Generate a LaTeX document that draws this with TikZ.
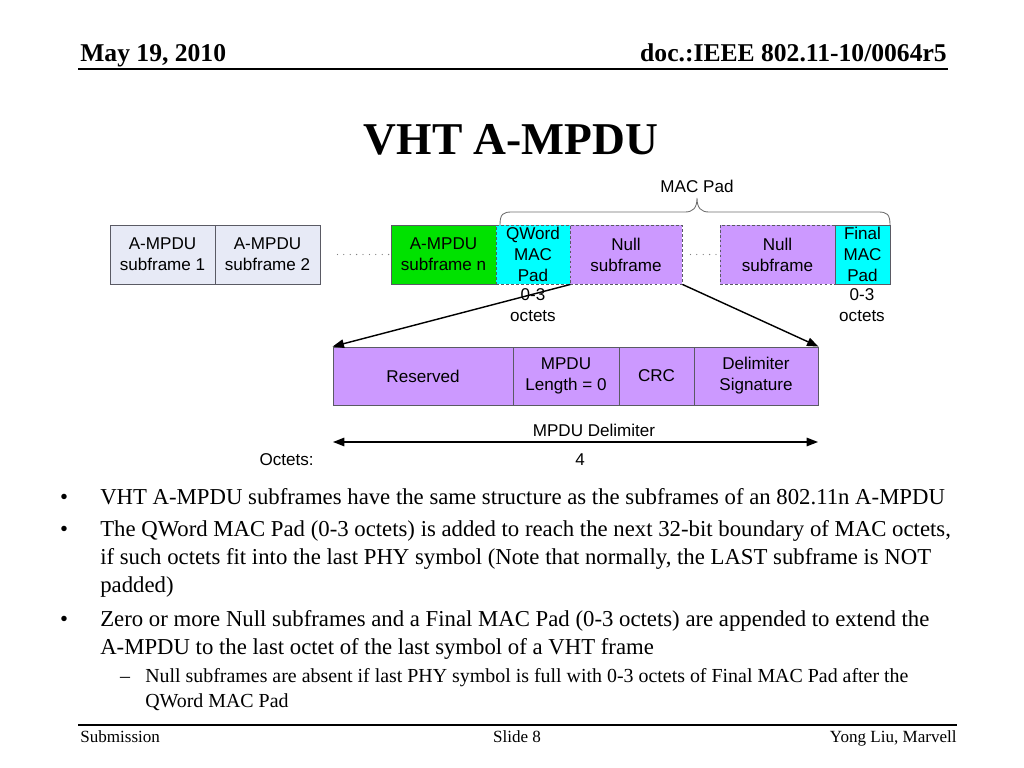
\documentclass[tikz,border=0pt]{standalone}
\usepackage{fontspec}
\setmainfont{Liberation Serif}
\newfontfamily\arial{Liberation Sans}
\usetikzlibrary{arrows.meta,calc}
\definecolor{boxgray}{RGB}{90,90,100}
\definecolor{lav}{RGB}{231,234,246}
\definecolor{grn}{RGB}{0,226,0}
\definecolor{cyn}{RGB}{0,255,255}
\definecolor{purp}{RGB}{204,153,255}
\definecolor{bracegray}{RGB}{110,110,110}
\begin{document}
\begin{tikzpicture}[x=0.703125pt,y=-0.703125pt,
  box/.style={draw=boxgray, line width=0.6pt, inner sep=0pt, align=center,
    font=\arial\fontsize{12}{14.8}\selectfont, minimum height=59*0.703125pt},
  dbox/.style={box, dashed, dash pattern=on 2pt off 1.5pt},
  lbl/.style={inner sep=0pt, align=center, font=\arial\fontsize{12}{14.8}\selectfont},
  arr/.style={line width=1pt, -{Triangle[length=8pt,width=6pt]}},
  dots/.style={draw=gray, line width=0.9pt, line cap=round, dash pattern=on 0pt off 4.5pt},
  hdr/.style={inner sep=0pt, font=\bfseries\fontsize{18}{21}\selectfont},
  ftr/.style={inner sep=0pt, font=\fontsize{12}{14}\selectfont},
  btxt/.style={inner sep=0pt, anchor=base west, font=\fontsize{16}{19}\selectfont},
  stxt/.style={inner sep=0pt, anchor=base west, font=\fontsize{14}{17}\selectfont}]
\useasboundingbox (0,0) rectangle (1024,768);
% header
\node[hdr, anchor=base west] (date) at (80,62) {May 19, 2010};
\node[hdr, anchor=base east] (doc) at (947,62) {doc.:IEEE 802.11-10/0064r5};
\coordinate (hl) at (78,69);
\coordinate (hr) at (948,69);
\draw[line width=1.4pt] (hl) -- (hr);
% title
\node[inner sep=0pt, anchor=base, font=\bfseries\fontsize{32}{38}\selectfont] (title) at (511,155) {VHT A-MPDU};
% top row
\node[box, fill=lav, minimum width=105*0.703125pt] (sf1) at (162.5,254.5) {A-MPDU\\subframe 1};
\node[box, fill=lav, minimum width=105*0.703125pt] (sf2) at (267.5,254.5) {A-MPDU\\subframe 2};
\node[box, fill=grn, minimum width=105*0.703125pt] (sfn) at (443.5,254.5) {A-MPDU\\subframe n};
\node[dbox, fill=cyn, minimum width=74*0.703125pt] (qw) at (533,254.5) {QWord\\MAC\\Pad};
\node[dbox, fill=purp, minimum width=112*0.703125pt] (null1) at (626,254.5) {Null\\subframe};
\node[dbox, fill=purp, minimum width=115*0.703125pt] (null2) at (777.5,254.5) {Null\\subframe};
\node[box, fill=cyn, minimum width=55*0.703125pt] (fin) at (862.5,254.5) {Final\\MAC\\Pad};
\draw[dots] (sf2.east) ++(17,0) -- (sfn.west);
\draw[dots] (null1.east) ++(8,0) -- (null2.west);
% brace
\draw[bracegray, line width=0.6pt] (500,225) .. controls (500,214) and (503,212) .. (512,212) -- (685,212) .. controls (693,212) and (697,208) .. (697,198) .. controls (697,208) and (701,212) .. (709,212) -- (878,212) .. controls (887,212) and (890,214) .. (890,225);
\node[lbl] (macpad) at (697,186) {MAC Pad};
\node[lbl] (oq) at (533,305.5) {0-3\\octets};
\node[lbl] (of) at (862,305.5) {0-3\\octets};
% delimiter
\node[box, fill=purp, minimum height=58*0.703125pt, minimum width=180*0.703125pt] (res) at (423,376) {Reserved};
\node[box, fill=purp, minimum height=58*0.703125pt, minimum width=106*0.703125pt] (len) at (566,376) {MPDU\\Length = 0};
\node[box, fill=purp, minimum height=58*0.703125pt, minimum width=75*0.703125pt] (crc) at (656.5,376) {CRC};
\node[box, fill=purp, minimum height=58*0.703125pt, minimum width=124*0.703125pt] (sig) at (756,376) {Delimiter\\Signature};
\draw[arr] (qw.south east) -- (res.north west);
\draw[arr] (null1.south east) -- (sig.north east);
\node[lbl] (mdl) at (594,430) {MPDU Delimiter};
\coordinate (dl) at (333,442);
\coordinate (dr) at (818,442);
\draw[line width=1pt, {Triangle[length=8pt,width=6pt]}-{Triangle[length=8pt,width=6pt]}] (dl) -- (dr);
\node[lbl, anchor=east] (oct) at (314,460) {Octets:};
\node[lbl] (four) at (580,460) {4};
% bullets
\node[inner sep=0pt, anchor=base, font=\fontsize{16}{19}\selectfont] (b1) at (64,504) {•};
\node[btxt] (l1) at (100,504) {VHT A-MPDU subframes have the same structure as the subframes of an 802.11n A-MPDU};
\node[inner sep=0pt, anchor=base, font=\fontsize{16}{19}\selectfont] (b2) at (64,536) {•};
\node[btxt] (l2) at (100,536) {The QWord MAC Pad (0-3 octets) is added to reach the next 32-bit boundary of MAC octets,};
\node[btxt] (l3) at (100,564) {if such octets fit into the last PHY symbol (Note that normally, the LAST subframe is NOT};
\node[btxt] (l4) at (100,592) {padded)};
\node[inner sep=0pt, anchor=base, font=\fontsize{16}{19}\selectfont] (b3) at (64,626) {•};
\node[btxt] (l5) at (100,626) {Zero or more Null subframes and a Final MAC Pad (0-3 octets) are appended to extend the};
\node[btxt] (l6) at (100,654) {A-MPDU to the last octet of the last symbol of a VHT frame};
\node[inner sep=0pt, anchor=base, font=\fontsize{14}{17}\selectfont] (b4) at (125,682) {–};
\node[stxt] (l7) at (145,682) {Null subframes are absent if last PHY symbol is full with 0-3 octets of Final MAC Pad after the};
\node[stxt] (l8) at (145,707) {QWord MAC Pad};
% footer
\coordinate (fl) at (78,725);
\coordinate (fr) at (957,725);
\draw[line width=1.2pt] (fl) -- (fr);
\node[ftr, anchor=base west] (sub) at (80,742) {Submission};
\node[ftr, anchor=base] (slide) at (517,742) {Slide 8};
\node[ftr, anchor=base east] (auth) at (957,742) {Yong Liu, Marvell};
\end{tikzpicture}
\end{document}
